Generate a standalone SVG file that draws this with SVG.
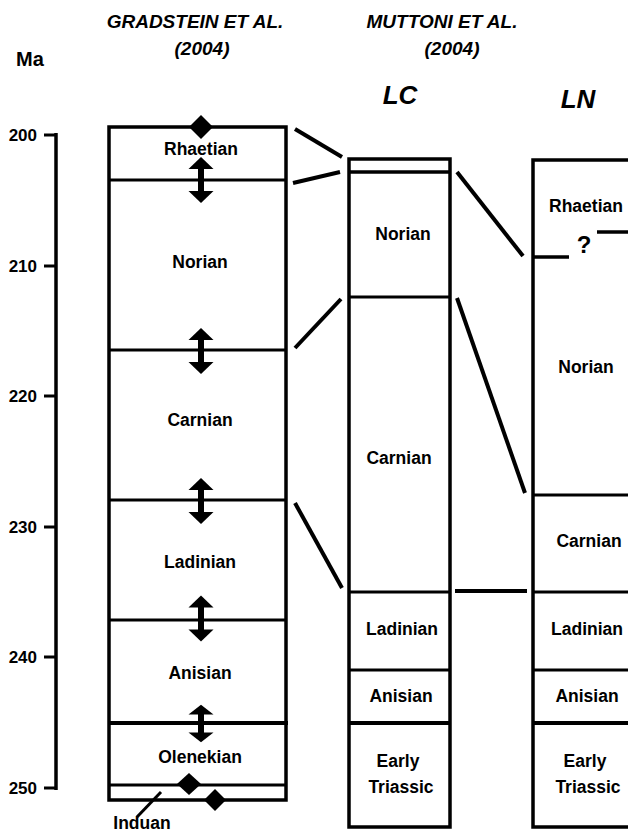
<svg xmlns="http://www.w3.org/2000/svg" width="628" height="836" viewBox="0 0 628 836">
<defs>
<style>
text{font-family:"Liberation Sans",Arial,sans-serif;font-weight:bold;fill:#000}
.hd{font-size:19px;font-style:italic;text-anchor:middle}
.col{font-size:26px;font-style:italic;text-anchor:middle}
.lab{font-size:17.5px;text-anchor:middle}
.ax{font-size:17px;text-anchor:end}
.box{fill:none;stroke:#000;stroke-width:3.5}
.b{stroke:#000;stroke-width:3;fill:none}
.bt{stroke:#000;stroke-width:4;fill:none}
.cn{stroke:#000;stroke-width:4;fill:none;stroke-linecap:butt}
</style>
<g id="darrow">
<rect x="-3" y="-18" width="6" height="36" fill="#000"/>
<polygon points="0,-23 -12.5,-11 12.5,-11" fill="#000"/>
<polygon points="0,23 -12.5,11 12.5,11" fill="#000"/>
</g>
</defs>
<rect width="628" height="836" fill="#fff"/>

<g id="headers">
<text class="hd" x="195" y="28">GRADSTEIN ET AL.</text>
<text class="hd" x="202" y="55">(2004)</text>
<text class="hd" x="442" y="28">MUTTONI ET AL.</text>
<text class="hd" x="452" y="55">(2004)</text>
<text x="16" y="66" style="font-size:20px">Ma</text>
<text class="col" x="400" y="104">LC</text>
<text class="col" x="578" y="108">LN</text>
</g>

<g id="axis">
<line class="b" x1="56" y1="133" x2="56" y2="790" style="stroke-width:3.5"/>
<g class="b">
<line x1="44" y1="135" x2="57" y2="135"/>
<line x1="44" y1="266" x2="57" y2="266"/>
<line x1="44" y1="396" x2="57" y2="396"/>
<line x1="44" y1="527" x2="57" y2="527"/>
<line x1="44" y1="657" x2="57" y2="657"/>
<line x1="44" y1="788" x2="57" y2="788"/>
</g>
<text class="ax" x="37" y="141">200</text>
<text class="ax" x="37" y="272">210</text>
<text class="ax" x="37" y="402">220</text>
<text class="ax" x="37" y="533">230</text>
<text class="ax" x="37" y="663">240</text>
<text class="ax" x="37" y="794">250</text>
</g>

<g id="gradstein">
<rect class="box" x="109" y="127" width="177" height="673"/>
<line class="b" x1="109" y1="180" x2="286" y2="180"/>
<line class="b" x1="109" y1="350" x2="286" y2="350"/>
<line class="b" x1="109" y1="500" x2="286" y2="500"/>
<line class="b" x1="109" y1="620" x2="286" y2="620"/>
<line class="bt" x1="109" y1="723" x2="288" y2="723"/>
<line class="b" x1="109" y1="785" x2="286" y2="785"/>
<text class="lab" x="201" y="155">Rhaetian</text>
<text class="lab" x="200" y="268">Norian</text>
<text class="lab" x="200" y="426">Carnian</text>
<text class="lab" x="200" y="568">Ladinian</text>
<text class="lab" x="200" y="679">Anisian</text>
<text class="lab" x="200" y="763">Olenekian</text>
<polygon points="201,115 213,127 201,139 189,127" fill="#000"/>
<polygon points="189,773 201,784 189,795 177,784" fill="#000"/>
<polygon points="215,789 226,800 215,811 204,800" fill="#000"/>
<use href="#darrow" x="201" y="180"/>
<use href="#darrow" x="201" y="351"/>
<use href="#darrow" x="201" y="501"/>
<use href="#darrow" x="201" y="618.5"/>
<use href="#darrow" x="201" y="723.5" transform="translate(201 723.5) scale(1 0.82) translate(-201 -723.5)"/>
<line class="b" x1="137" y1="817" x2="161" y2="792"/>
<text class="lab" x="142" y="829">Induan</text>
</g>

<g id="lc">
<rect class="box" x="349" y="159" width="101" height="668"/>
<line class="b" x1="349" y1="172" x2="450" y2="172" style="stroke-width:3.5"/>
<line class="b" x1="349" y1="297" x2="450" y2="297"/>
<line class="b" x1="349" y1="592" x2="450" y2="592"/>
<line class="b" x1="349" y1="670" x2="450" y2="670"/>
<line class="bt" x1="349" y1="723" x2="450" y2="723"/>
<text class="lab" x="403" y="240">Norian</text>
<text class="lab" x="399" y="464">Carnian</text>
<text class="lab" x="402" y="635">Ladinian</text>
<text class="lab" x="401" y="702">Anisian</text>
<text class="lab" x="398" y="767">Early</text>
<text class="lab" x="401" y="793">Triassic</text>
</g>

<g id="ln">
<polyline class="box" points="630,160 533,160 533,827 630,827"/>
<line class="b" x1="533" y1="257" x2="569" y2="257" style="stroke-width:3.5"/>
<line class="b" x1="597" y1="232" x2="630" y2="232" style="stroke-width:3.5"/>
<line class="b" x1="533" y1="495" x2="630" y2="495"/>
<line class="b" x1="533" y1="592" x2="630" y2="592"/>
<line class="b" x1="533" y1="670" x2="630" y2="670"/>
<line class="bt" x1="533" y1="723" x2="630" y2="723"/>
<text class="lab" x="586" y="212">Rhaetian</text>
<text class="lab" x="584" y="253" style="font-size:24px">?</text>
<text class="lab" x="586" y="373">Norian</text>
<text class="lab" x="589" y="547">Carnian</text>
<text class="lab" x="587" y="635">Ladinian</text>
<text class="lab" x="587" y="702">Anisian</text>
<text class="lab" x="585" y="767">Early</text>
<text class="lab" x="588" y="793">Triassic</text>
</g>

<g id="connectors">
<line class="cn" x1="295" y1="129" x2="342" y2="157"/>
<line class="cn" x1="293" y1="183" x2="340" y2="172"/>
<line class="cn" x1="457" y1="172" x2="523" y2="256"/>
<line class="cn" x1="295" y1="348" x2="341" y2="299"/>
<line class="cn" x1="457" y1="298" x2="525" y2="493"/>
<line class="cn" x1="295" y1="503" x2="342" y2="588"/>
<line class="cn" x1="455" y1="591" x2="527" y2="591"/>
</g>
</svg>
